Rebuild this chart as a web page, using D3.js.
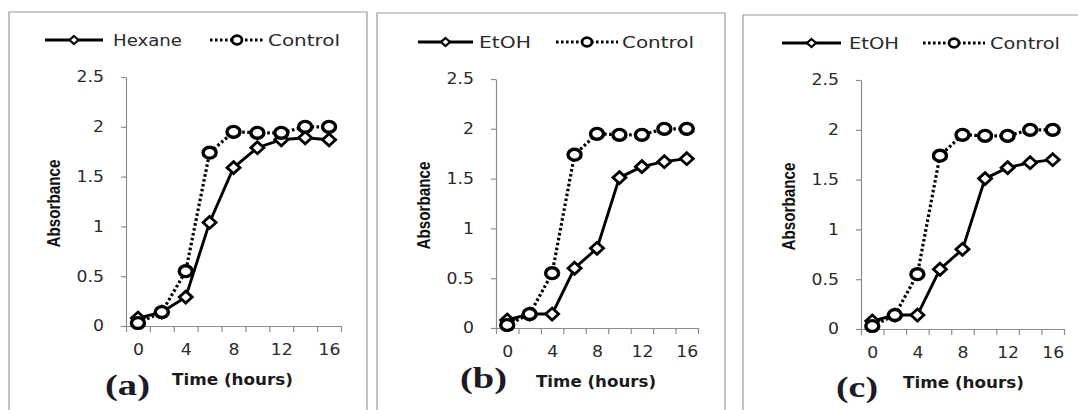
<!DOCTYPE html>
<html>
<head>
<meta charset="utf-8">
<script src="https://cdn.jsdelivr.net/npm/d3@7"></script>
<style>
  body { margin: 0; background: #fff; }
  svg { display: block; }
</style>
</head>
<body>
<svg id="chart" width="1078" height="410"></svg>
<script>
// data
var hours = [0, 2, 4, 6, 8, 10, 12, 14, 16];
var hexane = [0.08, 0.14, 0.29, 1.04, 1.59, 1.79, 1.87, 1.89, 1.87];
var etohB = [0.08, 0.14, 0.14, 0.60, 0.80, 1.51, 1.62, 1.67, 1.70];
var etohC = [0.08, 0.14, 0.14, 0.60, 0.80, 1.51, 1.62, 1.67, 1.70];
var control = [0.03, 0.14, 0.55, 1.74, 1.95, 1.94, 1.94, 2.00, 2.00];
var yTicks = [0, 0.5, 1, 1.5, 2, 2.5];
var xTickLabels = [0, 4, 8, 12, 16];
var treatmentNames = ["Hexane", "EtOH", "EtOH"];
var panelLabels = ["(a)", "(b)", "(c)"];

var panels = [
  { box: [9, 12, 358], x0: 126, x1: 341, y0: 326, yTop: 77, treat: hexane,
    leg: { y: 40, l1: 45, n1: 58, t1: 113, w1: 69, l2: 210, n2: 54, t2: 268, w2: 72 },
    tag: { x: 105, y: 395, w: 45 }, xlab: { x: 172, w: 121 } },
  { box: [377, 13, 348], x0: 496, x1: 698, y0: 328, yTop: 79, treat: etohB,
    leg: { y: 42, l1: 418, n1: 55, t1: 479, w1: 52, l2: 556, n2: 62, t2: 622, w2: 72 },
    tag: { x: 460, y: 388, w: 47 }, xlab: { x: 536, w: 120 } },
  { box: [743, 15, 358], x0: 861, x1: 1064, y0: 329, yTop: 80, treat: etohC,
    leg: { y: 43, l1: 782, n1: 59, t1: 849, w1: 50, l2: 923, n2: 62, t2: 990, w2: 70 },
    tag: { x: 836, y: 397, w: 42 }, xlab: { x: 903, w: 121 } }
];

var svg = d3.select("#chart");

function stretch(sel, k) {
  sel.each(function() {
    var len = this.getComputedTextLength();
    d3.select(this).attr("textLength", len * k).attr("lengthAdjust", "spacingAndGlyphs");
  });
}

function diamond(w, h) {
  return "M0," + (-h) + "L" + w + ",0L0," + h + "L" + (-w) + ",0Z";
}

panels.forEach(function(p, i) {
  var g = svg.append("g");

  // frame
  g.append("path")
    .attr("d", "M" + p.box[0] + ",420V" + p.box[1] + "H" + (p.box[0] + p.box[2]) + "V420")
    .attr("fill", "none")
    .attr("stroke", "#9a9a9a")
    .attr("stroke-width", 1.2);

  var x = d3.scaleLinear().domain([-1, 17]).range([p.x0, p.x1]);
  var y = d3.scaleLinear().domain([0, 2.5]).range([p.y0, p.yTop]);

  // x axis: tick marks between categories, labels every 4 hours
  var xa = g.append("g")
    .attr("transform", "translate(0," + p.y0 + ")")
    .call(d3.axisBottom(x).tickValues(d3.range(-1, 18, 2)).tickSize(6).tickSizeOuter(0).tickFormat(""));
  xa.selectAll("path, line").attr("stroke", "#8c8c8c").attr("stroke-width", 1.2);

  var xl = g.append("g")
    .attr("transform", "translate(0," + p.y0 + ")")
    .call(d3.axisBottom(x).tickValues(xTickLabels).tickSize(0).tickPadding(18));
  xl.select(".domain").remove();
  xl.selectAll("text")
    .attr("font-family", "DejaVu Sans")
    .attr("font-size", 15)
    .attr("fill", "#2a2a2a")
    .call(stretch, 1.15);

  var ya = g.append("g")
    .attr("transform", "translate(" + p.x0 + ",0)")
    .call(d3.axisLeft(y).tickValues(yTicks).tickSize(5).tickSizeOuter(0).tickPadding(17).tickFormat(d3.format("")));
  ya.selectAll("path, line").attr("stroke", "#8c8c8c").attr("stroke-width", 1.2);
  ya.selectAll("text")
    .attr("font-family", "DejaVu Sans")
    .attr("font-size", 15)
    .attr("fill", "#2a2a2a")
    .call(stretch, 1.15);

  // axis titles
  g.append("text")
    .attr("transform", "translate(" + (p.x0 - 66) + "," + ((p.y0 + p.yTop) / 2 + 2) + ") rotate(-90)")
    .attr("text-anchor", "middle")
    .attr("font-family", "Liberation Sans")
    .attr("font-weight", "bold")
    .attr("font-size", 18)
    .attr("fill", "#111")
    .attr("textLength", 88)
    .attr("lengthAdjust", "spacingAndGlyphs")
    .text("Absorbance");

  g.append("text")
    .attr("x", p.xlab.x)
    .attr("y", p.y0 + 59)
    .attr("font-family", "DejaVu Sans")
    .attr("font-weight", "bold")
    .attr("font-size", 16)
    .attr("fill", "#1a1a1a")
    .attr("textLength", p.xlab.w)
    .attr("lengthAdjust", "spacingAndGlyphs")
    .text("Time (hours)");

  g.append("text")
    .attr("x", p.tag.x)
    .attr("y", p.tag.y)
    .attr("font-family", "Liberation Serif")
    .attr("font-weight", "bold")
    .attr("font-size", 29)
    .attr("fill", "#1c1a24")
    .attr("textLength", p.tag.w)
    .attr("lengthAdjust", "spacingAndGlyphs")
    .text(panelLabels[i]);

  // series
  var line = d3.line()
    .x(function(d, j) { return x(hours[j]); })
    .y(function(d) { return y(d); });

  g.append("path")
    .datum(p.treat)
    .attr("d", line)
    .attr("fill", "none")
    .attr("stroke", "#000")
    .attr("stroke-width", 2.9);

  g.selectAll(".dia")
    .data(p.treat)
    .enter().append("path")
    .attr("transform", function(d, j) { return "translate(" + x(hours[j]) + "," + y(d) + ")"; })
    .attr("d", diamond(6.5, 6))
    .attr("fill", "#fff")
    .attr("stroke", "#000")
    .attr("stroke-width", 2.8);

  g.append("path")
    .datum(control)
    .attr("d", line)
    .attr("fill", "none")
    .attr("stroke", "#000")
    .attr("stroke-width", 3.2)
    .attr("stroke-dasharray", "2.6,2.4");

  g.selectAll(".circ")
    .data(control)
    .enter().append("ellipse")
    .attr("cx", function(d, j) { return x(hours[j]); })
    .attr("cy", function(d) { return y(d); })
    .attr("rx", 6.5)
    .attr("ry", 5.4)
    .attr("fill", "#fff")
    .attr("stroke", "#000")
    .attr("stroke-width", 3.4);

  // legend
  var L = p.leg;
  g.append("line")
    .attr("x1", L.l1).attr("x2", L.l1 + L.n1)
    .attr("y1", L.y).attr("y2", L.y)
    .attr("stroke", "#000").attr("stroke-width", 2.8);
  g.append("path")
    .attr("transform", "translate(" + (L.l1 + L.n1 / 2) + "," + L.y + ")")
    .attr("d", diamond(4.5, 4))
    .attr("fill", "#fff").attr("stroke", "#000").attr("stroke-width", 2.2);
  g.append("text")
    .attr("x", L.t1).attr("y", L.y + 5.5)
    .attr("font-family", "DejaVu Sans").attr("font-size", 16).attr("fill", "#2a2a2a")
    .attr("textLength", L.w1).attr("lengthAdjust", "spacingAndGlyphs")
    .text(treatmentNames[i]);

  g.append("line")
    .attr("x1", L.l2).attr("x2", L.l2 + L.n2)
    .attr("y1", L.y).attr("y2", L.y)
    .attr("stroke", "#000").attr("stroke-width", 3.2)
    .attr("stroke-dasharray", "2.6,2.4");
  g.append("ellipse")
    .attr("cx", L.l2 + L.n2 / 2).attr("cy", L.y)
    .attr("rx", 5).attr("ry", 4.3)
    .attr("fill", "#fff").attr("stroke", "#000").attr("stroke-width", 2.8);
  g.append("text")
    .attr("x", L.t2).attr("y", L.y + 5.5)
    .attr("font-family", "DejaVu Sans").attr("font-size", 16).attr("fill", "#2a2a2a")
    .attr("textLength", L.w2).attr("lengthAdjust", "spacingAndGlyphs")
    .text("Control");
});
</script>
</body>
</html>
